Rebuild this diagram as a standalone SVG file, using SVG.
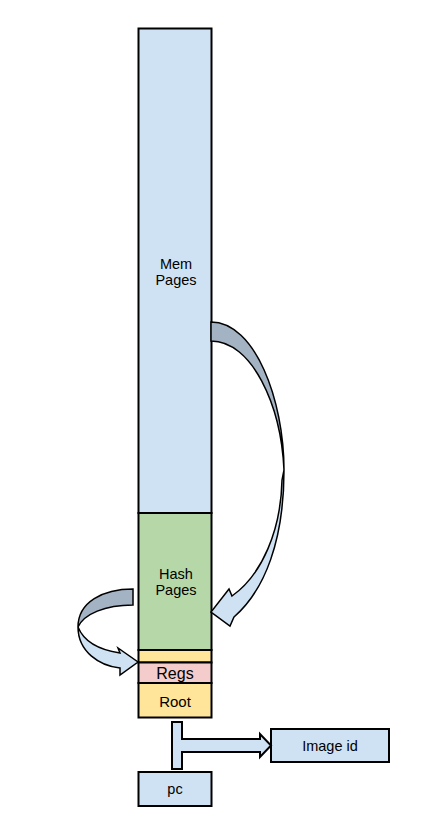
<svg xmlns="http://www.w3.org/2000/svg" width="445" height="824" viewBox="0 0 445 824">
<style>
.box{stroke:#000;stroke-width:2}
.blue{fill:#cfe2f3}
.green{fill:#b6d7a8}
.yellow{fill:#ffe599}
.pink{fill:#f4cccc}
.dark{fill:#a4b3c4}
.arr{stroke:#000;stroke-width:1.5;stroke-linejoin:miter}
text{font-family:"Liberation Sans",Arial,sans-serif;font-size:14.5px;fill:#000;text-anchor:middle}
</style>
<rect width="445" height="824" fill="#fff"/>
<g id="mem-pages">
<rect class="box blue" x="138.5" y="28.5" width="73" height="484.5"/>
<text x="176" y="269">Mem</text>
<text x="176" y="284.5">Pages</text>
</g>
<g id="hash-pages">
<rect class="box green" x="138.5" y="513" width="73" height="137"/>
<text x="176" y="579">Hash</text>
<text x="176" y="594.5">Pages</text>
</g>
<g id="spacer">
<rect class="box yellow" x="138.5" y="650" width="73" height="12.5"/>
</g>
<g id="regs">
<rect class="box pink" x="138.5" y="662.5" width="73" height="20.5"/>
<text x="175" y="678.5" style="font-size:16px">Regs</text>
</g>
<g id="root">
<rect class="box yellow" x="138.5" y="683" width="73" height="34.5"/>
<text x="175" y="707" style="font-size:15px">Root</text>
</g>
<g id="image-id">
<rect class="box blue" x="271" y="729" width="118" height="33"/>
<text x="330" y="751">Image id</text>
</g>
<g id="pc">
<rect class="box blue" x="138.5" y="772" width="73" height="34"/>
<text x="175" y="794">pc</text>
</g>
<g id="connectors">
<path class="arr dark" d="M211,322 C255,322 284,400 284,470 C281,405 252,341 211,341 Z"/>
<path class="arr blue" d="M284,470 C284,540 265,590 234,617 L230,626 L211,612 L229,589 L232,596 C262,575 281,530 282,480 Z"/>
<path class="arr dark" d="M133,589 C103,589 78,602 78,627 C84,614 105,605 133,605 Z"/>
<path class="arr blue" d="M78,627 C78,652 100,666 120,668 L120,675 L138,662 L118,648 L120,653 C100,650 84,642 78,627 Z"/>
<path class="box blue" d="M172,722 L182,722 L182,739 L260,739 L260,734 L271,745.5 L260,757 L260,752 L182,752 L182,769 L172,769 Z"/>
</g>
</svg>
